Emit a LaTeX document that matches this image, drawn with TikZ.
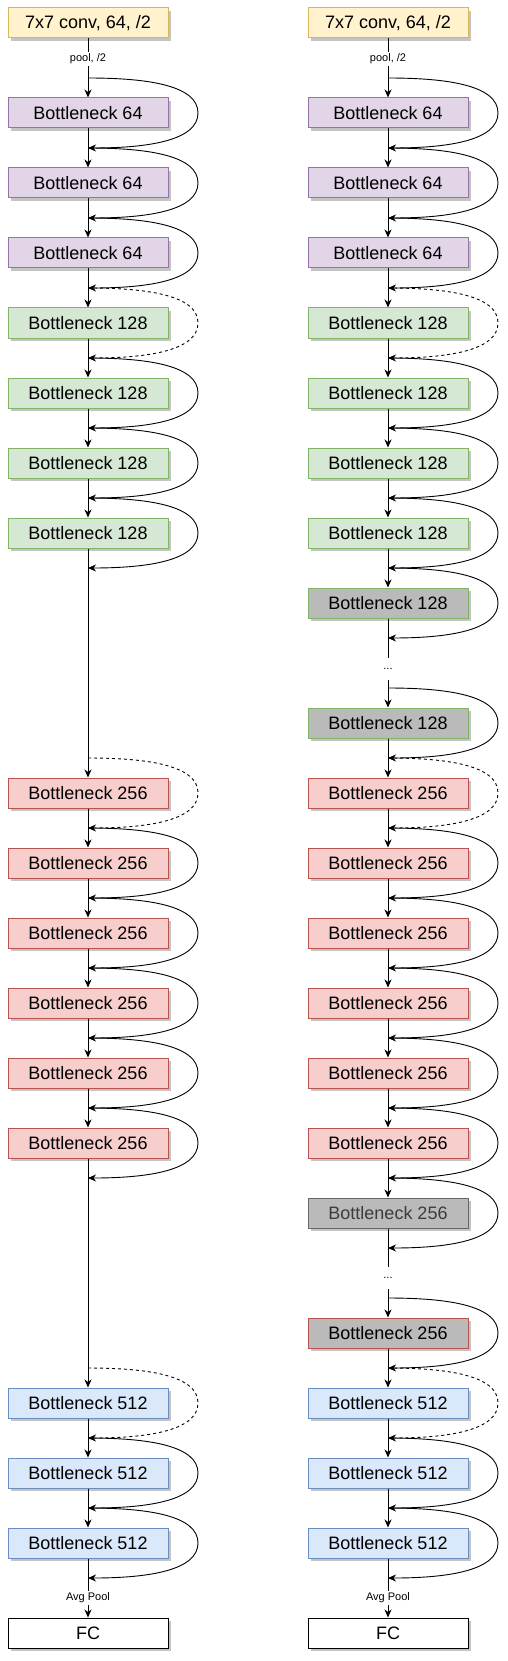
\documentclass[tikz,border=0pt]{standalone}
\usepackage{fontspec}
\setmainfont{Liberation Sans}
\usetikzlibrary{arrows.meta,shadows}
\definecolor{yfill}{HTML}{FFF2CC}\definecolor{ystroke}{HTML}{D6B656}
\definecolor{pfill}{HTML}{E1D5E7}\definecolor{pstroke}{HTML}{9673A6}
\definecolor{gfill}{HTML}{D5E8D4}\definecolor{gstroke}{HTML}{82B366}
\definecolor{rfill}{HTML}{F8CECC}\definecolor{rstroke}{HTML}{B85450}
\definecolor{bfill}{HTML}{DAE8FC}\definecolor{bstroke}{HTML}{6C8EBF}
\definecolor{kfill}{HTML}{BABABA}\definecolor{kstroke}{HTML}{666666}
\definecolor{ktext}{HTML}{3C3C3C}
\definecolor{shadowc}{HTML}{C4C4C4}
\begin{document}
\begin{tikzpicture}[x=1pt,y=-1pt,
  box/.style={draw, line width=1pt, minimum width=160pt, minimum height=30pt, inner sep=0pt,
    font=\fontsize{18}{21}\selectfont,
    drop shadow={shadow xshift=3pt, shadow yshift=-3pt, fill=shadowc, opacity=1}},
  ybox/.style={box, fill=yfill, draw=ystroke},
  pbox/.style={box, fill=pfill, draw=pstroke},
  gbox/.style={box, fill=gfill, draw=gstroke},
  rbox/.style={box, fill=rfill, draw=rstroke},
  bbox/.style={box, fill=bfill, draw=bstroke},
  wbox/.style={box, fill=white, draw=black},
  kgbox/.style={box, fill=kfill, draw=gstroke},
  kkbox/.style={box, fill=kfill, draw=kstroke, text=ktext},
  krbox/.style={box, fill=kfill, draw=rstroke},
  tipsty/.tip={Stealth[length=8pt,width=7pt,inset=2.5pt]},
  flow/.style={line width=1pt, -tipsty},
  plain/.style={line width=1pt},
  solidskip/.style={line width=0.9pt, -tipsty},
  dashskip/.style={line width=0.9pt, -tipsty, dash pattern=on 3pt off 3pt},
  lbl/.style={fill=white, inner sep=1.5pt, font=\fontsize{11}{13}\selectfont},
  dotsty/.style={inner sep=0pt, minimum height=22pt, minimum width=10pt, font=\fontsize{11}{13}\selectfont}
]
\useasboundingbox (0,0) rectangle (508,1661);

% ---------- left column ----------
\node[ybox] (Ltop) at (88,23) {7x7 conv, 64, /2};
\foreach \n/\c/\st/\t in {L1/113/pbox/Bottleneck 64, L2/183/pbox/Bottleneck 64, L3/253/pbox/Bottleneck 64,
  L4/323/gbox/Bottleneck 128, L5/393/gbox/Bottleneck 128, L6/463/gbox/Bottleneck 128, L7/533/gbox/Bottleneck 128,
  L8/793/rbox/Bottleneck 256, L9/863/rbox/Bottleneck 256, L10/933/rbox/Bottleneck 256,
  L11/1003/rbox/Bottleneck 256, L12/1073/rbox/Bottleneck 256, L13/1143/rbox/Bottleneck 256,
  L14/1403/bbox/Bottleneck 512, L15/1473/bbox/Bottleneck 512, L16/1543/bbox/Bottleneck 512}{
  \node[\st] (\n) at (88,\c) {\t};
  \coordinate (\n t) at (88,\c-35);
  \coordinate (\n m) at (198,\c);
  \coordinate (\n b) at (88,\c+35);
}
\node[wbox] (Lfc) at (88,1633) {FC};

% ---------- right column ----------
\node[ybox] (Rtop) at (388,23) {7x7 conv, 64, /2};
\foreach \n/\c/\st/\t in {R1/113/pbox/Bottleneck 64, R2/183/pbox/Bottleneck 64, R3/253/pbox/Bottleneck 64,
  R4/323/gbox/Bottleneck 128, R5/393/gbox/Bottleneck 128, R6/463/gbox/Bottleneck 128, R7/533/gbox/Bottleneck 128,
  Rg1/603/kgbox/Bottleneck 128, Rg2/723/kgbox/Bottleneck 128,
  R8/793/rbox/Bottleneck 256, R9/863/rbox/Bottleneck 256, R10/933/rbox/Bottleneck 256,
  R11/1003/rbox/Bottleneck 256, R12/1073/rbox/Bottleneck 256, R13/1143/rbox/Bottleneck 256,
  Rg3/1213/kkbox/Bottleneck 256, Rg4/1333/krbox/Bottleneck 256,
  R14/1403/bbox/Bottleneck 512, R15/1473/bbox/Bottleneck 512, R16/1543/bbox/Bottleneck 512}{
  \node[\st] (\n) at (388,\c) {\t};
  \coordinate (\n t) at (388,\c-35);
  \coordinate (\n m) at (498,\c);
  \coordinate (\n b) at (388,\c+35);
}
\node[wbox] (Rfc) at (388,1633) {FC};
\node[dotsty] (Rd1) at (388,669) {...};
\node[dotsty] (Rd2) at (388,1278) {...};

% ---------- main flow ----------
\foreach \a/\b in {Ltop/L1, L1/L2, L2/L3, L3/L4, L4/L5, L5/L6, L6/L7, L7/L8, L8/L9, L9/L10, L10/L11,
  L11/L12, L12/L13, L13/L14, L14/L15, L15/L16, L16/Lfc,
  Rtop/R1, R1/R2, R2/R3, R3/R4, R4/R5, R5/R6, R6/R7, R7/Rg1, Rd1/Rg2, Rg2/R8, R8/R9, R9/R10, R10/R11,
  R11/R12, R12/R13, R13/Rg3, Rd2/Rg4, Rg4/R14, R14/R15, R15/R16, R16/Rfc}{
  \draw[flow] (\a) -- (\b);
}
\draw[plain] (Rg1) -- (Rd1);
\draw[plain] (Rg3) -- (Rd2);

% ---------- skip connections ----------
\foreach \n/\s in {L1/solidskip, L2/solidskip, L3/solidskip, L4/dashskip, L5/solidskip, L6/solidskip,
  L7/solidskip, L8/dashskip, L9/solidskip, L10/solidskip, L11/solidskip, L12/solidskip, L13/solidskip,
  L14/dashskip, L15/solidskip, L16/solidskip,
  R1/solidskip, R2/solidskip, R3/solidskip, R4/dashskip, R5/solidskip, R6/solidskip, R7/solidskip,
  Rg1/solidskip, Rg2/solidskip, R8/dashskip, R9/solidskip, R10/solidskip, R11/solidskip, R12/solidskip,
  R13/solidskip, Rg3/solidskip, Rg4/solidskip, R14/dashskip, R15/solidskip, R16/solidskip}{
  \draw[\s] (\n t) .. controls +(62,0) and +(0,-27) .. (\n m)
                   .. controls +(0,27) and +(62,0) .. (\n b);
}

% ---------- edge labels ----------
\node[lbl] (Lpool) at (88,59) {pool, /2};
\node[lbl] (Rpool) at (388,59) {pool, /2};
\node[lbl] (Lavg) at (88,1598) {Avg Pool};
\node[lbl] (Ravg) at (388,1598) {Avg Pool};
\end{tikzpicture}
\end{document}
